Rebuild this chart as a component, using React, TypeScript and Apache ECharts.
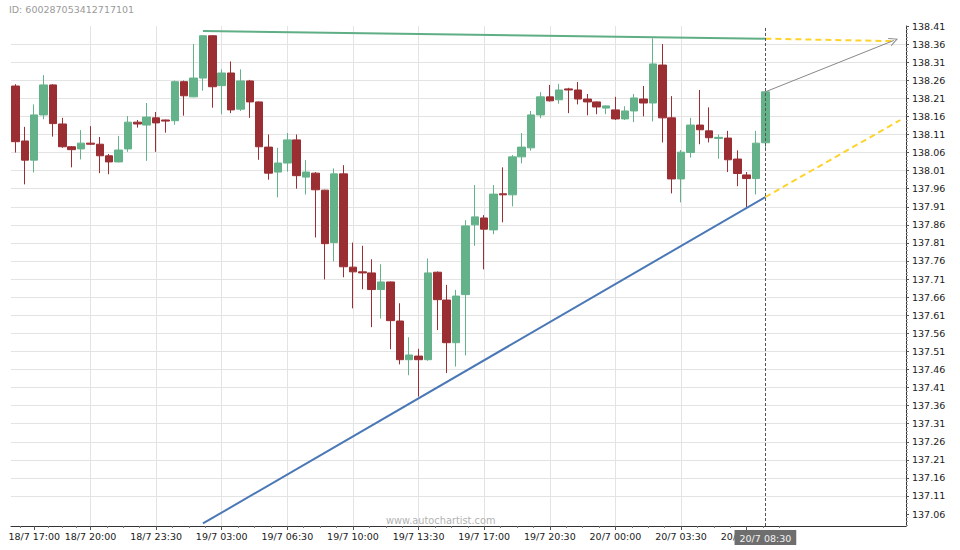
import React, { useEffect, useRef } from 'react';
import * as echarts from 'echarts';

// ---- data ----
const chartId = 'ID: 600287053412717101';
const watermark = 'www.autochartist.com';

// 30-minute candles, index 0 = 18/7 16:00
const opens = [
  138.244, 138.092, 138.039, 138.164, 138.247, 138.139, 138.076, 138.070, 138.086, 138.083,
  138.051, 138.034, 138.070, 138.144, 138.136, 138.156, 138.150, 138.148, 138.256, 138.214,
  138.266, 138.383, 138.245, 138.280, 138.180, 138.258, 138.200, 138.075, 138.006, 138.031,
  138.095, 137.992, 138.003, 137.956, 137.811, 138.001, 137.743, 137.730, 137.727, 137.681,
  137.702, 137.594, 137.487, 137.497, 137.487, 137.729, 137.652, 137.534, 137.667, 137.860,
  137.879, 137.846, 137.946, 137.943, 138.048, 138.073, 138.164, 138.214, 138.206, 138.236,
  138.233, 138.208, 138.200, 138.183, 138.178, 138.153, 138.175, 138.208, 138.197, 138.302,
  138.156, 137.987, 138.060, 138.136, 138.120, 138.099, 138.100, 138.042, 137.998, 137.988,
  138.087,
];
const closes = [
  138.090, 138.039, 138.164, 138.247, 138.140, 138.076, 138.068, 138.086, 138.083, 138.051,
  138.034, 138.067, 138.144, 138.139, 138.158, 138.142, 138.147, 138.256, 138.217, 138.266,
  138.383, 138.242, 138.280, 138.178, 138.258, 138.200, 138.076, 138.003, 138.031, 138.095,
  137.996, 138.006, 137.957, 137.808, 138.001, 137.744, 137.730, 137.727, 137.681, 137.702,
  137.595, 137.487, 137.500, 137.487, 137.727, 137.653, 137.534, 137.663, 137.857, 137.882,
  137.848, 137.945, 137.943, 138.048, 138.075, 138.164, 138.214, 138.203, 138.233, 138.233,
  138.208, 138.200, 138.186, 138.189, 138.153, 138.175, 138.211, 138.197, 138.305, 138.156,
  137.987, 138.061, 138.136, 138.123, 138.101, 138.102, 138.040, 138.002, 137.988, 138.086,
  138.228,
];
const lows = [
  138.060, 137.972, 138.005, 138.152, 138.104, 138.073, 138.019, 138.041, 138.081, 138.003,
  138.000, 138.033, 138.062, 138.129, 138.037, 138.062, 138.115, 138.137, 138.162, 138.213,
  138.231, 138.184, 138.166, 138.169, 138.175, 138.156, 138.040, 137.985, 137.936, 138.007,
  137.960, 137.944, 137.825, 137.709, 137.759, 137.715, 137.629, 137.682, 137.577, 137.601,
  137.516, 137.474, 137.444, 137.385, 137.484, 137.569, 137.450, 137.468, 137.499, 137.802,
  137.737, 137.834, 137.867, 137.911, 138.030, 138.065, 138.155, 138.201, 138.195, 138.169,
  138.193, 138.163, 138.166, 138.166, 138.150, 138.150, 138.144, 138.160, 138.146, 138.088,
  137.947, 137.922, 138.046, 138.083, 138.088, 138.043, 138.006, 137.967, 137.906, 137.944,
  138.070,
];
const highs = [
  138.249, 138.131, 138.193, 138.274, 138.249, 138.156, 138.078, 138.122, 138.133, 138.103,
  138.056, 138.106, 138.161, 138.150, 138.197, 138.172, 138.151, 138.259, 138.259, 138.360,
  138.384, 138.384, 138.290, 138.312, 138.290, 138.261, 138.201, 138.110, 138.073, 138.114,
  138.110, 138.039, 138.006, 137.957, 138.016, 138.025, 137.811, 137.802, 137.765, 137.751,
  137.703, 137.643, 137.549, 137.517, 137.767, 137.731, 137.694, 137.680, 137.873, 137.970,
  137.887, 137.970, 138.019, 138.053, 138.114, 138.175, 138.227, 138.247, 138.250, 138.239,
  138.255, 138.222, 138.201, 138.190, 138.214, 138.188, 138.222, 138.244, 138.376, 138.360,
  138.216, 138.067, 138.156, 138.233, 138.185, 138.110, 138.120, 138.066, 138.006, 138.120,
  138.229,
];

// x-axis tick positions (candle index) and their labels
const xTickIndex = [2, 8, 15, 22, 29, 36, 43, 50, 57, 64, 71, 78];
const xTickLabels = [
  '18/7 17:00', '18/7 20:00', '18/7 23:30', '19/7 03:00', '19/7 06:30', '19/7 10:00',
  '19/7 13:30', '19/7 17:00', '19/7 20:30', '20/7 00:00', '20/7 03:30', '20/7 07:00',
];
const lastIndex = 80;
const lastLabel = '20/7 08:30';

const yTickValues = [
  137.06, 137.11, 137.16, 137.21, 137.26, 137.31, 137.36, 137.41, 137.46, 137.51,
  137.56, 137.61, 137.66, 137.71, 137.76, 137.81, 137.86, 137.91, 137.96, 138.01,
  138.06, 138.11, 138.16, 138.21, 138.26, 138.31, 138.36, 138.41,
];

// pattern lines: [candle index, price]
const resistanceLine = [[20, 138.396], [80, 138.375]];
const resistanceProjection = [[80, 138.375], [93.8, 138.368]];
const supportLine = [[20, 137.034], [80, 137.937]];
const supportProjection = [[80, 137.937], [94.4, 138.15]];
const forecastArrow = [[80, 138.228], [93.7, 138.37]];

// ---- styling ----
const GREEN = '#63b28a';
const RED = '#9a2e33';
const FONT = 'DejaVu Sans';
const X_MIN = -0.48;
const X_MAX = 95;
const Y_MIN = 137.027;
const Y_MAX = 138.41;

// minor ticks: 4 subdivisions between labelled x ticks, 5 between y ticks
const xMinorTicks: number[] = [];
for (let i = 0; i < xTickIndex.length - 1; i++) {
  const a = xTickIndex[i];
  const b = xTickIndex[i + 1];
  for (let k = 1; k < 4; k++) xMinorTicks.push(a + ((b - a) * k) / 4);
}
xMinorTicks.unshift(xTickIndex[0] - 1.5);
xMinorTicks.push(xTickIndex[xTickIndex.length - 1] + 1.75, xTickIndex[xTickIndex.length - 1] + 3.5);

const yMinorTicks: number[] = [];
for (let i = 0; i < yTickValues.length; i++) {
  for (let k = -4; k < 0; k++) {
    const v = Math.round((yTickValues[i] + k * 0.01) * 1000) / 1000;
    if (v > Y_MIN) yMinorTicks.push(v);
  }
}

const ARROW_HEAD = 'path://M5,0 L10,10 L8.8,10 L5,2.4 L1.2,10 L0,10 Z';

export default function App() {
  const ref = useRef<HTMLDivElement>(null);

  useEffect(() => {
    if (!ref.current) return;
    const chart = echarts.init(ref.current, undefined, { renderer: 'svg' });

    const candleData = opens.map((o, i) => [i, o, closes[i], lows[i], highs[i]]);

    const option: any = {
      animation: false,
      backgroundColor: '#ffffff',
      textStyle: { fontFamily: FONT },
      grid: { left: 11, right: 54, top: 26, bottom: 24, outerBoundsMode: 'none', containLabel: false },
      graphic: [
        {
          type: 'text',
          left: 9,
          top: 4,
          style: { text: chartId, fill: '#9a9a9a', font: `9.5px "${FONT}"` },
        },
        {
          type: 'text',
          x: 386,
          y: 515,
          z: 1,
          style: { text: watermark, fill: '#b3b3b3', font: `9.8px "${FONT}"` },
        },
      ],
      xAxis: [
        {
          type: 'value',
          min: X_MIN,
          max: X_MAX,
          position: 'bottom',
          axisLine: { show: true, onZero: false, lineStyle: { color: '#333', width: 1 } },
          axisTick: { show: true, customValues: xTickIndex, length: 4, lineStyle: { color: '#555' } },
          axisLabel: {
            show: true,
            customValues: xTickIndex,
            formatter: (v: number) => {
              const idx = xTickIndex.indexOf(Math.round(v));
              return idx >= 0 ? xTickLabels[idx] : '';
            },
            fontSize: 9.5,
            color: '#1a1a1a',
            fontFamily: FONT,
            margin: 5,
            hideOverlap: false,
          },
          splitLine: { show: true, showMinLine: false, showMaxLine: false, lineStyle: { color: '#e3e3e3', width: 1 } },
        },
        {
          type: 'value',
          min: X_MIN,
          max: X_MAX,
          position: 'bottom',
          axisLine: { show: false, onZero: false },
          axisTick: { show: true, customValues: xMinorTicks, length: 2, lineStyle: { color: '#777' } },
          axisLabel: { show: false },
          splitLine: { show: false },
        },
      ],
      yAxis: [
        {
          type: 'value',
          min: Y_MIN,
          max: Y_MAX,
          position: 'right',
          axisLine: { show: true, onZero: false, lineStyle: { color: '#333', width: 1 } },
          axisTick: { show: true, customValues: yTickValues, length: 3, lineStyle: { color: '#555' } },
          axisLabel: {
            show: true,
            customValues: yTickValues,
            formatter: (v: number) => v.toFixed(2),
            fontSize: 9.5,
            color: '#1a1a1a',
            fontFamily: FONT,
            margin: 6,
            hideOverlap: false,
          },
          splitLine: { show: true, showMinLine: false, showMaxLine: false, lineStyle: { color: '#e3e3e3', width: 1 } },
        },
        {
          type: 'value',
          min: Y_MIN,
          max: Y_MAX,
          position: 'right',
          axisLine: { show: false, onZero: false },
          axisTick: { show: true, customValues: yMinorTicks, length: 2, lineStyle: { color: '#999' } },
          axisLabel: { show: false },
          splitLine: { show: false },
        },
      ],
      series: [
        {
          type: 'candlestick',
          xAxisIndex: 0,
          yAxisIndex: 0,
          data: candleData,
          encode: { x: 0, y: [1, 2, 3, 4] },
          barWidth: 8,
          z: 3,
          itemStyle: {
            color: GREEN,
            color0: RED,
            borderColor: GREEN,
            borderColor0: RED,
            borderWidth: 1,
          },
          markLine: {
            silent: true,
            symbol: ['none', 'none'],
            z: 6,
            lineStyle: { color: '#555', type: [3, 2], width: 1 },
            label: {
              show: true,
              position: 'start',
              formatter: lastLabel,
              color: '#f2f2f2',
              backgroundColor: '#6e6e6e',
              padding: [3, 5, 2, 5],
              fontSize: 9.5,
              fontFamily: FONT,
              distance: 4,
            },
            data: [{ xAxis: lastIndex }],
          },
        },
        {
          type: 'line',
          data: resistanceLine,
          symbol: 'none',
          z: 4,
          lineStyle: { color: '#5fae85', width: 2 },
        },
        {
          type: 'line',
          data: supportLine,
          symbol: 'none',
          z: 4,
          lineStyle: { color: '#4a78b6', width: 2 },
        },
        {
          type: 'line',
          data: resistanceProjection,
          symbol: 'none',
          z: 4,
          lineStyle: { color: '#ffd32a', width: 2, type: [6, 4] },
        },
        {
          type: 'line',
          data: supportProjection,
          symbol: 'none',
          z: 4,
          lineStyle: { color: '#ffd32a', width: 2, type: [6, 4] },
        },
        {
          type: 'lines',
          coordinateSystem: 'cartesian2d',
          z: 5,
          symbol: ['none', ARROW_HEAD],
          symbolSize: [9, 9],
          lineStyle: { color: '#888', width: 1, opacity: 1 },
          itemStyle: { color: '#888' },
          data: [{ coords: forecastArrow }],
        },
      ],
    };

    chart.setOption(option);
    return () => chart.dispose();
  }, []);

  return (
    <div
      ref={ref}
      style={{ position: 'fixed', left: 0, top: 0, width: 960, height: 550, background: '#fff' }}
    />
  );
}
